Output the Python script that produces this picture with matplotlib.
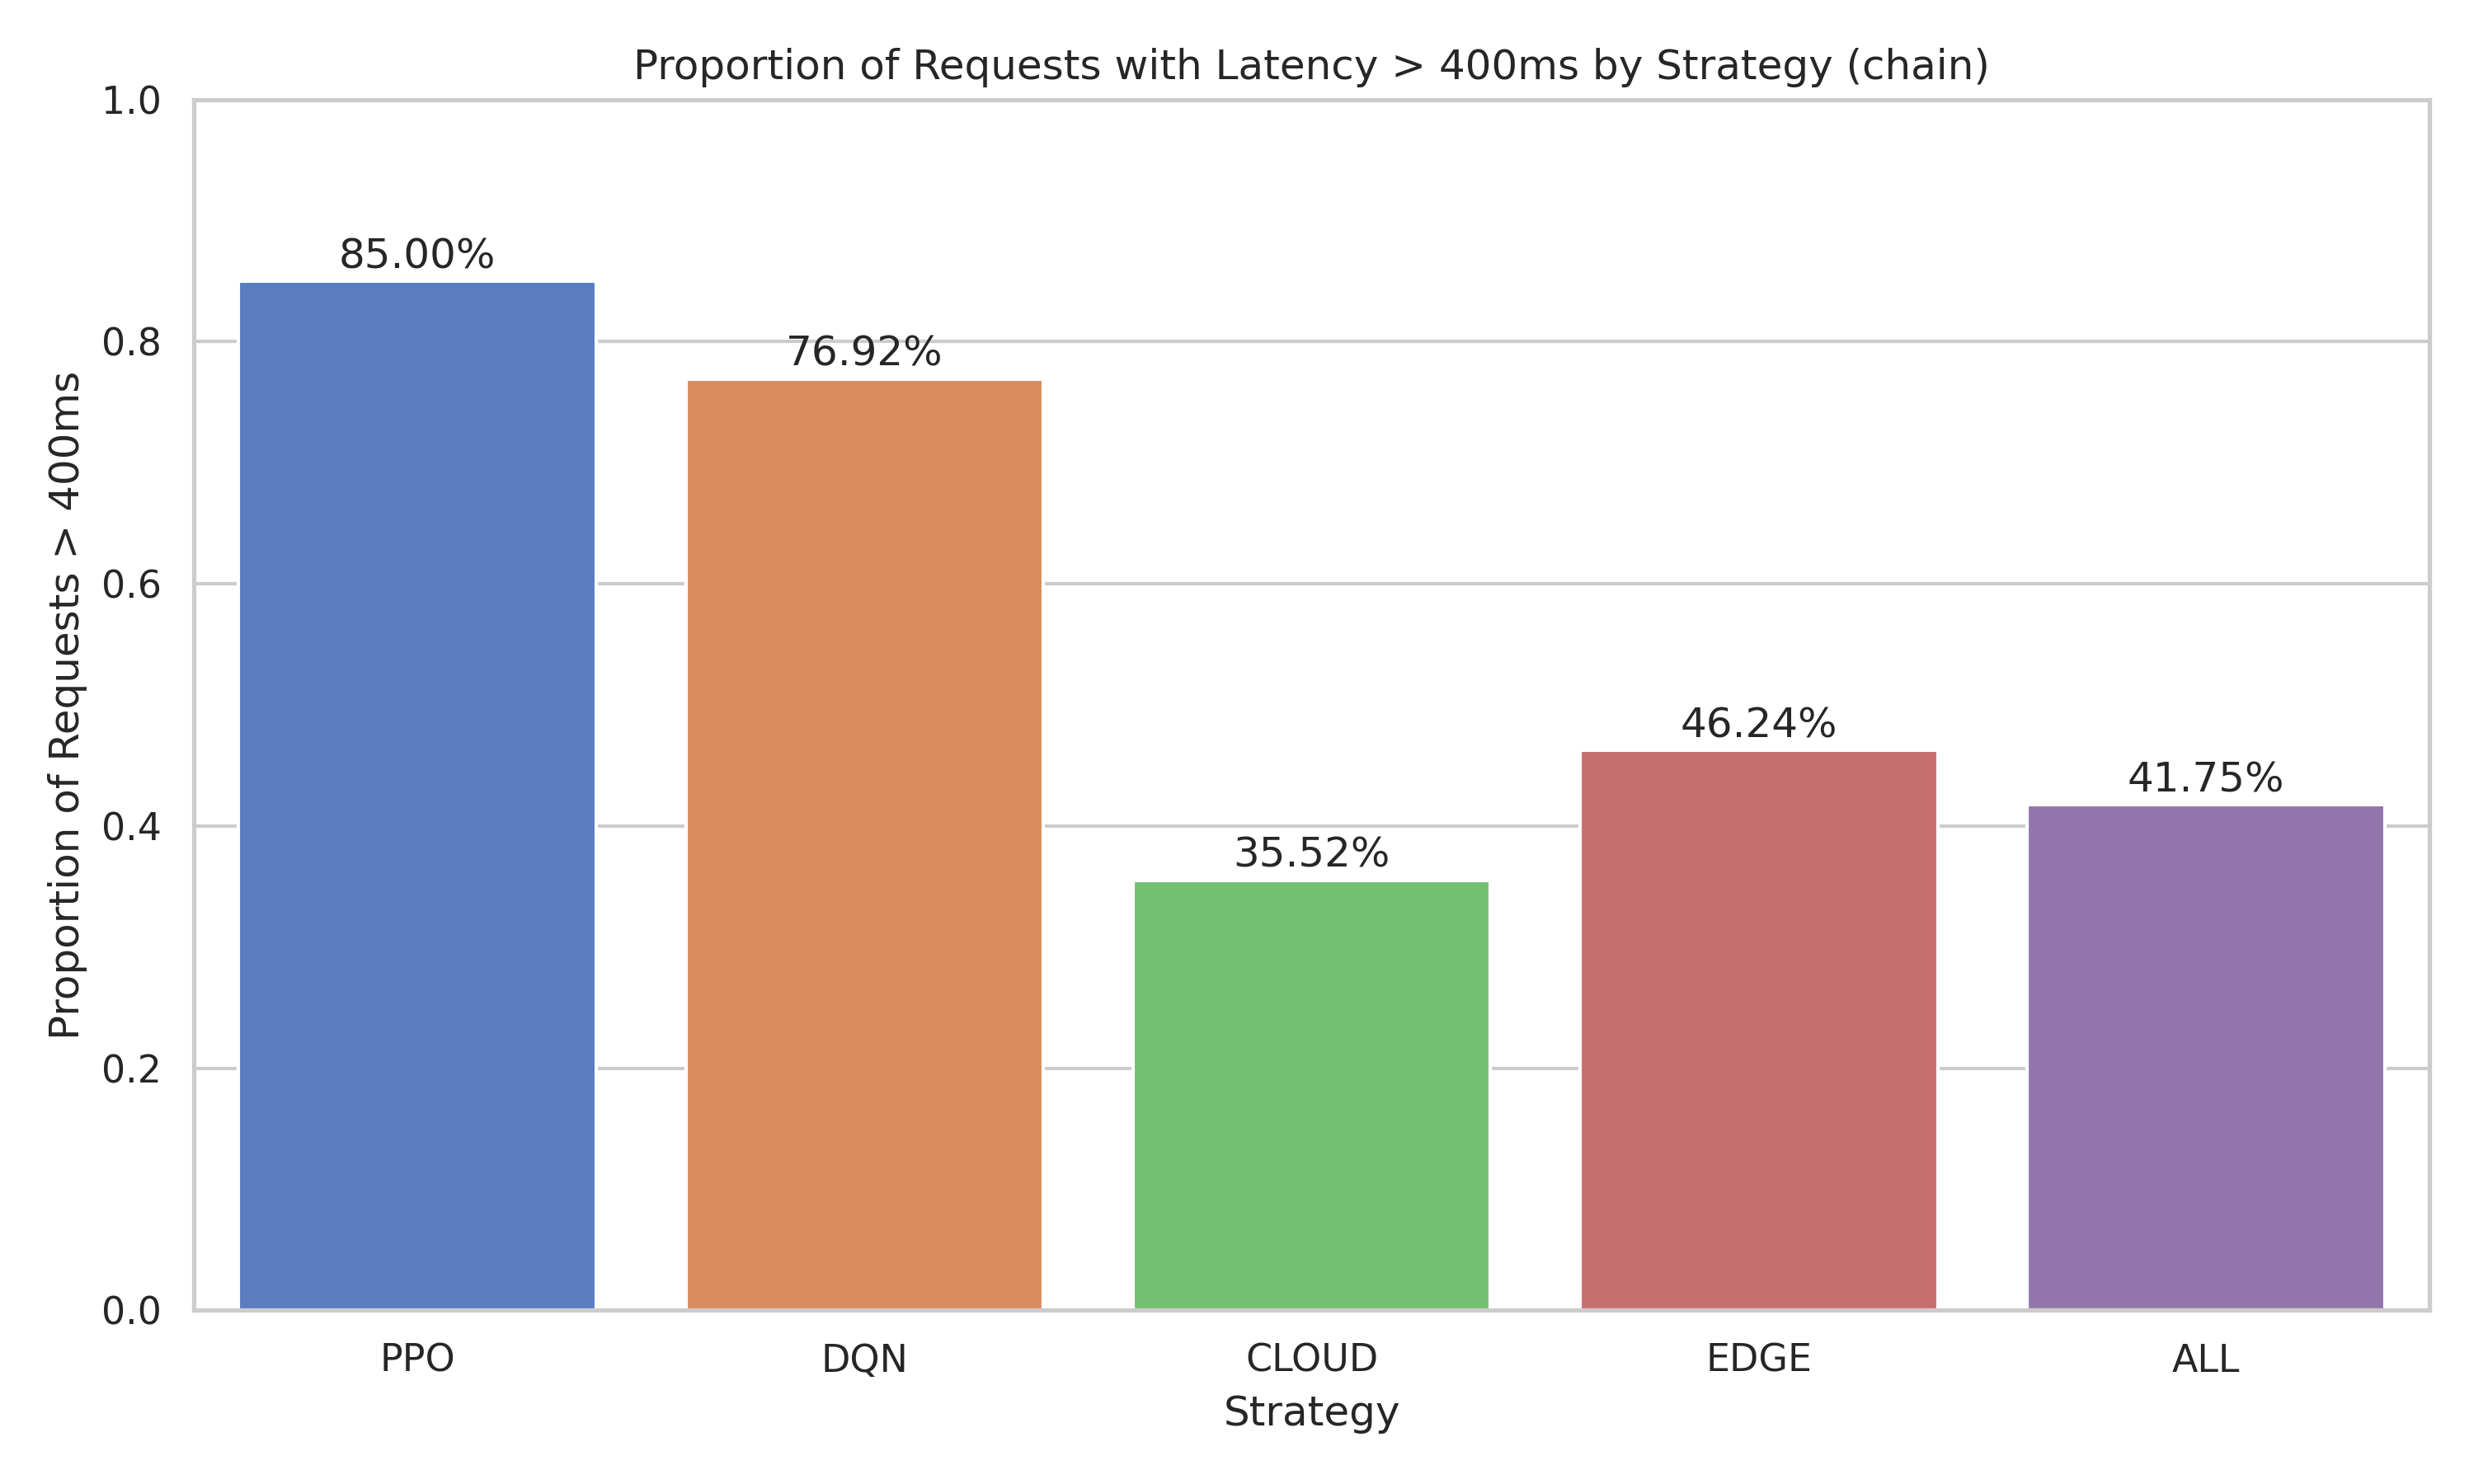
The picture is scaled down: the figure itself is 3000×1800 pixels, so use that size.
import numpy as np
import matplotlib
matplotlib.use('Agg')
import matplotlib.pyplot as plt
import seaborn as sns

strategies = ['PPO', 'DQN', 'CLOUD', 'EDGE', 'ALL']
proportions = [0.8500, 0.7692, 0.3552, 0.4624, 0.4175]

sns.set_theme(style='whitegrid')
plt.rcParams['font.family'] = ['DejaVu Sans']

fig, ax = plt.subplots(figsize=(10, 6), dpi=300)
# seaborn's barplot dims the palette a bit (saturation=0.75)
colors = [sns.desaturate(c, 0.75) for c in sns.color_palette('muted', len(strategies))]
bars = ax.bar(strategies, proportions, color=colors, width=0.8)

for b, v in zip(bars, proportions):
    ax.text(b.get_x() + b.get_width() / 2, v + 0.004, f'{v * 100:.2f}%',
            ha='center', va='bottom', fontsize=12)

ax.set_ylim(0, 1.0)
ax.set_xlim(-0.5, len(strategies) - 0.5)
ax.set_title('Proportion of Requests with Latency > 400ms by Strategy (chain)')
ax.set_xlabel('Strategy')
ax.set_ylabel('Proportion of Requests > 400ms')
ax.xaxis.grid(False)

fig.subplots_adjust(left=0.0784, right=0.982, top=0.933, bottom=0.117)
plt.savefig('out.png')
